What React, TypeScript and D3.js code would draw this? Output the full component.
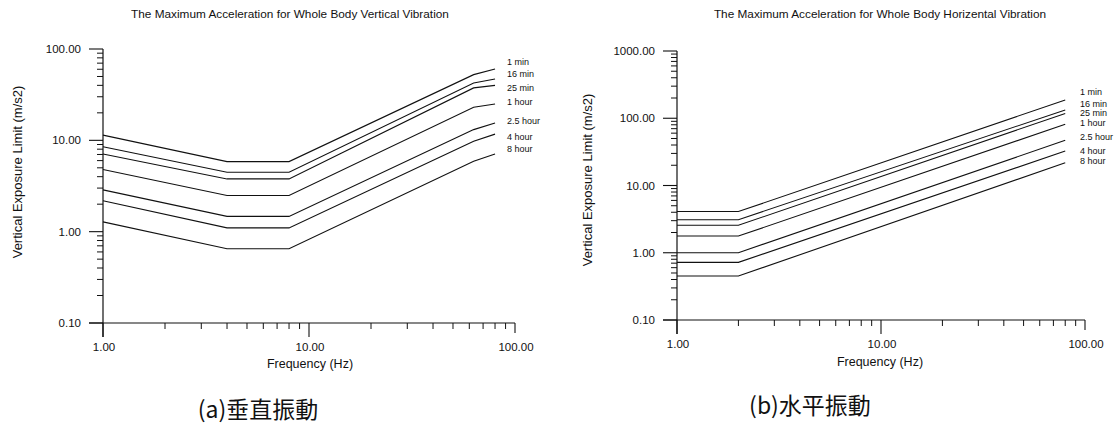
import React from "react";
import * as d3 from "d3";

// ---------- data ----------
const durations = ["1 min", "16 min", "25 min", "1 hour", "2.5 hour", "4 hour", "8 hour"];

const vertFreq = [1, 4, 8, 63, 80];
const vert1min = [11.4, 5.85, 5.85, 52.4, 60.5];
const vert16min = [8.5, 4.48, 4.48, 42.5, 47];
const vert25min = [7.1, 3.78, 3.78, 37.5, 40];
const vert1hour = [4.8, 2.49, 2.49, 23, 25];
const vert25hour = [2.87, 1.47, 1.47, 13.1, 15.5];
const vert4hour = [2.18, 1.1, 1.1, 9.75, 11.7];
const vert8hour = [1.28, 0.65, 0.65, 5.9, 7.1];

const horizFreq = [1, 2, 80];
const horiz1min = [4.1, 4.1, 187];
const horiz16min = [3.1, 3.1, 133];
const horiz25min = [2.56, 2.56, 118];
const horiz1hour = [1.77, 1.77, 81.5];
const horiz25hour = [1.0, 1.0, 47];
const horiz4hour = [0.72, 0.72, 32.5];
const horiz8hour = [0.45, 0.45, 21.8];

const xTickValues = [1, 10, 100];
const vertYTicks = [0.1, 1, 10, 100];
const horizYTicks = [0.1, 1, 10, 100, 1000];

const vertSeries = [vert1min, vert16min, vert25min, vert1hour, vert25hour, vert4hour, vert8hour];
const horizSeries = [horiz1min, horiz16min, horiz25min, horiz1hour, horiz25hour, horiz4hour, horiz8hour];

// ---------- layout (positions only) ----------
const FONT = "'Liberation Sans', Arial, Helvetica, sans-serif";

type PanelProps = {
  title: string;
  titleX: number;
  freq: number[];
  series: number[][];
  yTicks: number[];
  x0: number; x1: number;
  y0: number; y1: number;
  yLabelX: number;
  yLabelY: number;
  labelX: number;
  labelYs: number[];
  xLabelX: number;
  xLabelY: number;
};

function minorTicks(lo: number, hi: number): number[] {
  const out: number[] = [];
  for (let p = Math.round(Math.log10(lo)); p < Math.round(Math.log10(hi)); p++) {
    for (let m = 2; m <= 9; m++) out.push(m * Math.pow(10, p));
  }
  return out;
}

function Panel(p: PanelProps) {
  const xDom: [number, number] = [1, 100];
  const yDom: [number, number] = [p.yTicks[0], p.yTicks[p.yTicks.length - 1]];
  const x = d3.scaleLog().domain(xDom).range([p.x0, p.x1]);
  const y = d3.scaleLog().domain(yDom).range([p.y0, p.y1]);
  const line = d3
    .line<[number, number]>()
    .x((d) => x(d[0]))
    .y((d) => y(d[1]));
  const fmt = d3.format(".2f");
  const stroke = "#111";
  return (
    <g>
      <text x={p.titleX} y={18} textAnchor="middle" fontSize={11.8} fontFamily={FONT} fill="#111">
        {p.title}
      </text>
      {/* y axis */}
      <line x1={p.x0} x2={p.x0} y1={p.y1} y2={p.y0 + 14} stroke={stroke} strokeWidth={1.2} />
      {p.yTicks.map((t) => (
        <g key={"yt" + t}>
          <line x1={p.x0 - 14} x2={p.x0} y1={y(t)} y2={y(t)} stroke={stroke} strokeWidth={1.1} />
          <text x={p.x0 - 22} y={y(t) + 4} textAnchor="end" fontSize={11.5} fontFamily={FONT} fill="#111">
            {fmt(t)}
          </text>
        </g>
      ))}
      {minorTicks(yDom[0], yDom[1]).map((t) => (
        <line key={"ym" + t} x1={p.x0 - 6} x2={p.x0} y1={y(t)} y2={y(t)} stroke={stroke} strokeWidth={1} />
      ))}
      {/* x axis */}
      <line x1={p.x0 - 14} x2={p.x1} y1={p.y0} y2={p.y0} stroke={stroke} strokeWidth={1.2} />
      {xTickValues.map((t) => (
        <g key={"xt" + t}>
          <line x1={x(t)} x2={x(t)} y1={p.y0} y2={p.y0 + (t === 100 ? 10 : 14)} stroke={stroke} strokeWidth={1.1} />
          <text x={x(t) + 1} y={p.y0 + 28} textAnchor="middle" fontSize={11.5} fontFamily={FONT} fill="#111">
            {fmt(t)}
          </text>
        </g>
      ))}
      {minorTicks(1, 100).map((t) => (
        <line key={"xm" + t} x1={x(t)} x2={x(t)} y1={p.y0} y2={p.y0 + 6} stroke={stroke} strokeWidth={1} />
      ))}
      {/* axis titles */}
      <text
        transform={`translate(${p.yLabelX},${p.yLabelY}) rotate(-90)`}
        textAnchor="middle"
        fontSize={13}
        fontFamily={FONT}
        fill="#111"
      >
        Vertical Exposure Limit (m/s2)
      </text>
      <text x={p.xLabelX} y={p.xLabelY} textAnchor="middle" fontSize={12.5} fontFamily={FONT} fill="#111">
        Frequency (Hz)
      </text>
      {/* curves */}
      {p.series.map((s, i) => (
        <path
          key={"s" + i}
          d={line(p.freq.map((f, j) => [f, s[j]] as [number, number])) || ""}
          fill="none"
          stroke={stroke}
          strokeWidth={1.1}
        />
      ))}
      {durations.map((d, i) => (
        <text key={"l" + i} x={p.labelX} y={p.labelYs[i] + 3} fontSize={9} fontFamily={FONT} fill="#111">
          {d}
        </text>
      ))}
    </g>
  );
}

export default function App() {
  return (
    <svg
      width={1119}
      height={431}
      style={{ position: "absolute", left: 0, top: 0, background: "#fff" }}
      xmlns="http://www.w3.org/2000/svg"
    >
      <rect x={0} y={0} width={1119} height={431} fill="#fff" />
      <Panel
        title="The Maximum Acceleration for Whole Body Vertical Vibration"
        titleX={290}
        freq={vertFreq}
        series={vertSeries}
        yTicks={vertYTicks}
        x0={103}
        x1={515}
        y0={323}
        y1={49}
        yLabelX={22}
        yLabelY={172}
        labelX={507}
        labelYs={[61.7, 74.3, 87.7, 102.3, 120.7, 136.7, 149]}
        xLabelX={310}
        xLabelY={368}
      />
      <Panel
        title="The Maximum Acceleration for Whole Body Horizental Vibration"
        titleX={880}
        freq={horizFreq}
        series={horizSeries}
        yTicks={horizYTicks}
        x0={677}
        x1={1085}
        y0={320}
        y1={51}
        yLabelX={592}
        yLabelY={180}
        labelX={1080}
        labelYs={[91.7, 104.3, 113.3, 123.3, 137.3, 151, 161]}
        xLabelX={880}
        xLabelY={366}
      />
      <text x={258} y={418} textAnchor="middle" fontSize={23} fontFamily="'Noto Sans CJK TC', serif" fill="#111">
        (a)垂直振動
      </text>
      <text x={810} y={414} textAnchor="middle" fontSize={23} fontFamily="'Noto Sans CJK TC', serif" fill="#111">
        (b)水平振動
      </text>
    </svg>
  );
}
